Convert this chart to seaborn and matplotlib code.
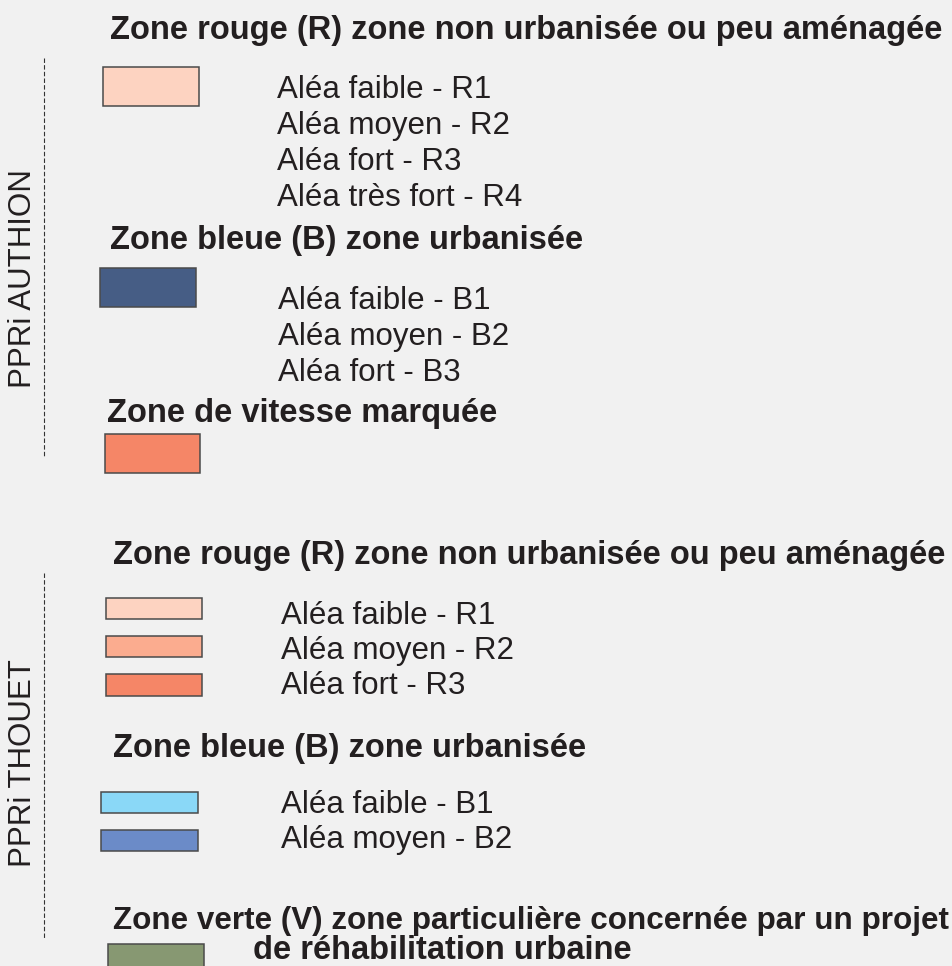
import matplotlib.pyplot as plt
import seaborn as sns
from matplotlib.patches import Rectangle

# Legend content
authion_rouge_title = "Zone rouge (R) zone non urbanisée ou peu aménagée"
authion_rouge_labels = ["Aléa faible - R1", "Aléa moyen - R2", "Aléa fort - R3", "Aléa très fort - R4"]
authion_bleue_title = "Zone bleue (B) zone urbanisée"
authion_bleue_labels = ["Aléa faible - B1", "Aléa moyen - B2", "Aléa fort - B3"]
authion_vitesse_title = "Zone de vitesse marquée"
authion_colors = ["#FDD3C1", "#465D85", "#F58667"]

thouet_rouge_title = "Zone rouge (R) zone non urbanisée ou peu aménagée"
thouet_rouge_labels = ["Aléa faible - R1", "Aléa moyen - R2", "Aléa fort - R3"]
thouet_rouge_colors = ["#FDD3C1", "#FBAC8F", "#F58667"]
thouet_bleue_title = "Zone bleue (B) zone urbanisée"
thouet_bleue_labels = ["Aléa faible - B1", "Aléa moyen - B2"]
thouet_bleue_colors = ["#8AD8F7", "#6B8BC8"]
thouet_verte_title = ["Zone verte (V) zone particulière concernée par un projet",
                      "de réhabilitation urbaine"]
thouet_verte_color = "#879872"

side_labels = ["PPRi AUTHION", "PPRi THOUET"]

sns.set_theme(style="white")
plt.rcParams["font.family"] = ["Liberation Sans", "DejaVu Sans"]

BG = "#F1F1F1"
INK = "#231F20"

fig = plt.figure(figsize=(9.53, 9.66), dpi=100, facecolor=BG)
ax = fig.add_axes([0, 0, 1, 1])
ax.set_facecolor(BG)
ax.set_xlim(0, 953)
ax.set_ylim(966, 0)
ax.axis("off")

TITLE_FS = 23.5
ITEM_FS = 22.5


def title(x, y, s, fs=TITLE_FS):
    ax.text(x, y, s, fontsize=fs, fontweight="bold", color=INK, va="baseline", ha="left")


def items(x, ys, labels):
    for y, s in zip(ys, labels):
        ax.text(x, y, s, fontsize=ITEM_FS, color=INK, va="baseline", ha="left")


def swatch(x0, y0, x1, y1, c):
    ax.add_patch(Rectangle((x0, y0), x1 - x0, y1 - y0, facecolor=c,
                           edgecolor="#4a4a4a", linewidth=1.1))


# --- PPRi AUTHION ---
title(110, 39, authion_rouge_title)
swatch(103, 67, 199, 106, authion_colors[0])
items(277, [98, 134, 170, 206], authion_rouge_labels)

title(110, 249, authion_bleue_title)
swatch(100, 268, 196, 307, authion_colors[1])
items(278, [309, 345, 381], authion_bleue_labels)

title(107, 422, authion_vitesse_title)
swatch(105, 434, 200, 473, authion_colors[2])

# --- PPRi THOUET ---
title(113, 564, thouet_rouge_title)
for (y0, y1), c in zip([(598, 619), (636, 657), (674, 696)], thouet_rouge_colors):
    swatch(106, y0, 202, y1, c)
items(281, [624, 659, 694], thouet_rouge_labels)

title(113, 757, thouet_bleue_title)
for (y0, y1), c in zip([(792, 813), (830, 851)], thouet_bleue_colors):
    swatch(101, y0, 198, y1, c)
items(281, [813, 848], thouet_bleue_labels)

title(113, 929, thouet_verte_title[0], fs=22.6)
title(253, 959, thouet_verte_title[1])
swatch(108, 944, 204, 970, thouet_verte_color)

# side labels and dashed separators
ax.text(23, 279, side_labels[0], rotation=90, fontsize=ITEM_FS, color=INK, ha="center", va="center")
ax.text(23, 763, side_labels[1], rotation=90, fontsize=ITEM_FS, color=INK, ha="center", va="center")
ax.plot([44, 44], [58, 458], color="#333333", linewidth=0.8, linestyle=(0, (4, 2)))
ax.plot([44, 44], [573, 938], color="#333333", linewidth=0.8, linestyle=(0, (4, 2)))

fig.savefig("out.png", dpi=100, facecolor=BG)
